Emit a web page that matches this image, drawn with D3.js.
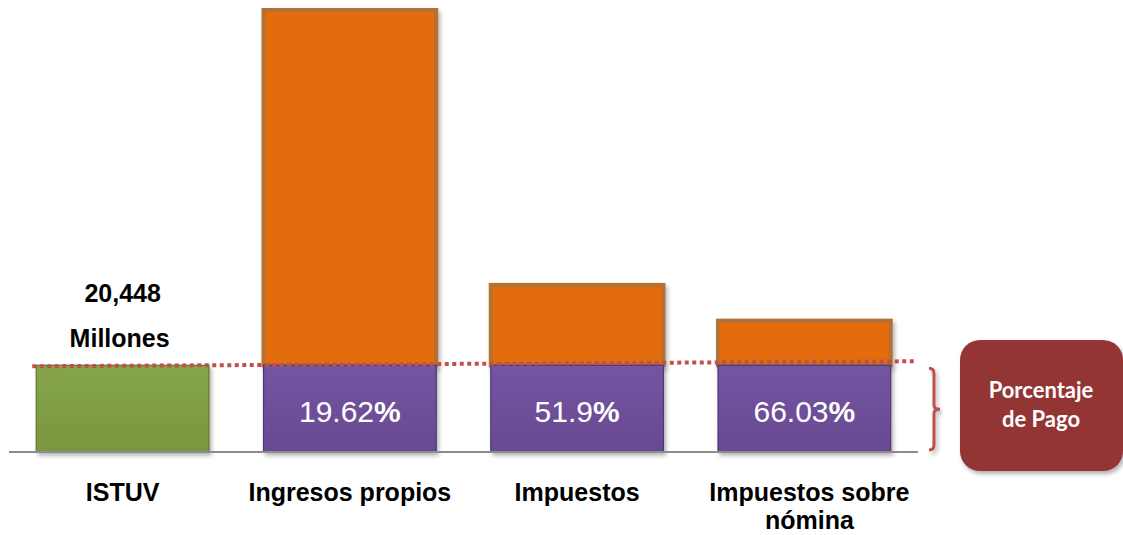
<!DOCTYPE html>
<html>
<head>
<meta charset="utf-8">
<script src="https://cdn.jsdelivr.net/npm/d3@7"></script>
<style>
  body { margin: 0; background: #fff; }
  svg { display: block; font-family: "Liberation Sans", Arial, sans-serif; }
</style>
</head>
<body>
<div id="chart-area"></div>
<script>
// Data
let categories = ["ISTUV", "Ingresos propios", "Impuestos", "Impuestos sobre nómina"];
let pagado = [20448, 20448, 20448, 20448];          // lower part (green / purple)
let totales = [20448, 104220, 39400, 30970];        // full bar height
let porcentajes = [null, "19.62", "51.9", "66.03"];
let etiquetaIstuv = ["20,448", "Millones"];

let width = 1123, height = 535;

let svg = d3.select("#chart-area").append("svg")
    .attr("width", width)
    .attr("height", height);

// Defs: shadow + gradients
let defs = svg.append("defs");
let shadow = defs.append("filter").attr("id", "shadow")
    .attr("x", "-10%").attr("y", "-10%").attr("width", "130%").attr("height", "130%");
shadow.append("feDropShadow")
    .attr("dx", 2).attr("dy", 3).attr("stdDeviation", 2)
    .attr("flood-color", "#000").attr("flood-opacity", 0.3);

function grad(id, top, bottom) {
    let g = defs.append("linearGradient").attr("id", id)
        .attr("x1", 0).attr("y1", 0).attr("x2", 0).attr("y2", 1);
    g.append("stop").attr("offset", "0%").attr("stop-color", top);
    g.append("stop").attr("offset", "100%").attr("stop-color", bottom);
}
grad("gGreen", "#86a54a", "#7a963f");
grad("gPurple", "#7454a3", "#684a90");

// Scales
let x = d3.scaleBand()
    .domain(categories)
    .range([9, 918])
    .paddingInner(0.24)
    .paddingOuter(0.12);

let y = d3.scaleLinear()
    .domain([0, d3.max(totales)])
    .range([452, 10]);

let data = categories.map((c, i) => ({cat: c, pagado: pagado[i], total: totales[i], pct: porcentajes[i]}));

// Orange (remaining) bars
svg.selectAll(".bar-rest")
    .data(data.filter(d => d.total > d.pagado))
    .enter().append("rect")
    .attr("class", "bar-rest")
    .attr("x", d => x(d.cat))
    .attr("y", d => y(d.total))
    .attr("width", x.bandwidth())
    .attr("height", d => y(d.pagado) - y(d.total))
    .attr("fill", "#e36c0a")
    .attr("stroke", "#b56f36")
    .attr("stroke-width", 4)
    .attr("filter", "url(#shadow)");

// Lower bars
svg.selectAll(".bar-paid")
    .data(data)
    .enter().append("rect")
    .attr("class", "bar-paid")
    .attr("x", d => x(d.cat))
    .attr("y", d => y(d.pagado))
    .attr("width", x.bandwidth())
    .attr("height", d => y(0) - y(d.pagado))
    .attr("fill", (d, i) => i === 0 ? "url(#gGreen)" : "url(#gPurple)")
    .attr("stroke", (d, i) => i === 0 ? "#5f7a2c" : "#4d3870")
    .attr("stroke-width", 1.2)
    .attr("filter", "url(#shadow)");

// Baseline
svg.append("line")
    .attr("x1", x.range()[0]).attr("x2", x.range()[1])
    .attr("y1", y(0)).attr("y2", y(0))
    .attr("stroke", "#8c8c8c")
    .attr("stroke-width", 2);

// Dotted reference line at ISTUV level
let ref = pagado[0];
svg.append("line")
    .attr("x1", x(categories[0]) - 4).attr("x2", 915)
    .attr("y1", y(ref) + 1).attr("y2", y(ref) - 4)
    .attr("stroke", "#c0504d")
    .attr("stroke-width", 4)
    .attr("stroke-dasharray", "4,3.5");

// Percent labels
let pctText = svg.selectAll(".pct")
    .data(data.filter(d => d.pct))
    .enter().append("text")
    .attr("class", "pct")
    .attr("x", d => x(d.cat) + x.bandwidth() / 2)
    .attr("y", d => (y(d.pagado) + y(0)) / 2 + 13)
    .attr("text-anchor", "middle")
    .attr("fill", "#fff")
    .style("font-size", "30px");
pctText.append("tspan").text(d => d.pct);
pctText.append("tspan").style("font-weight", "bold").text("%");

// ISTUV value label
let cx0 = x(categories[0]) + x.bandwidth() / 2;
svg.append("text")
    .attr("x", cx0).attr("y", 302)
    .attr("text-anchor", "middle")
    .style("font-size", "25px").style("font-weight", "bold")
    .text(etiquetaIstuv[0]);
svg.append("text")
    .attr("x", cx0 - 3).attr("y", 347)
    .attr("text-anchor", "middle")
    .style("font-size", "25px").style("font-weight", "bold")
    .text(etiquetaIstuv[1]);

// Category labels
let catLines = {"Impuestos sobre nómina": ["Impuestos sobre", "nómina"]};
categories.forEach((c, i) => {
    let lines = catLines[c] || [c];
    let cx = x(c) + x.bandwidth() / 2 + (i === 3 ? 5 : 0);
    let t = svg.append("text")
        .attr("x", cx)
        .attr("y", 501)
        .attr("text-anchor", "middle")
        .style("font-size", "25px").style("font-weight", "bold");
    lines.forEach((l, j) => {
        t.append("tspan")
            .attr("x", cx)
            .attr("dy", j === 0 ? 0 : 28)
            .text(l);
    });
});

// Bracket
let bTop = y(ref) + 3, bBot = y(0) - 2, bMid = (bTop + bBot) / 2;
svg.append("path")
    .attr("d", `M929,${bTop} Q934,${bTop} 934,${bTop + 5} L934,${bMid - 4} Q934,${bMid} 940,${bMid} Q934,${bMid} 934,${bMid + 4} L934,${bBot - 5} Q934,${bBot} 929,${bBot}`)
    .attr("fill", "none")
    .attr("stroke", "#c0504d")
    .attr("stroke-width", 3)
    .attr("filter", "url(#shadow)");

// Box
svg.append("rect")
    .attr("x", 960).attr("y", 340)
    .attr("width", 163).attr("height", 131)
    .attr("rx", 20).attr("ry", 20)
    .attr("fill", "#943634")
    .attr("filter", "url(#shadow)");
let box = svg.append("text")
    .attr("text-anchor", "middle")
    .attr("fill", "#fff")
    .style("font-family", "Lato, 'Open Sans', sans-serif")
    .style("font-size", "22px").style("font-weight", "bold");
box.append("tspan").attr("x", 1041).attr("y", 398).text("Porcentaje");
box.append("tspan").attr("x", 1041).attr("y", 427).text("de Pago");
</script>
</body>
</html>
